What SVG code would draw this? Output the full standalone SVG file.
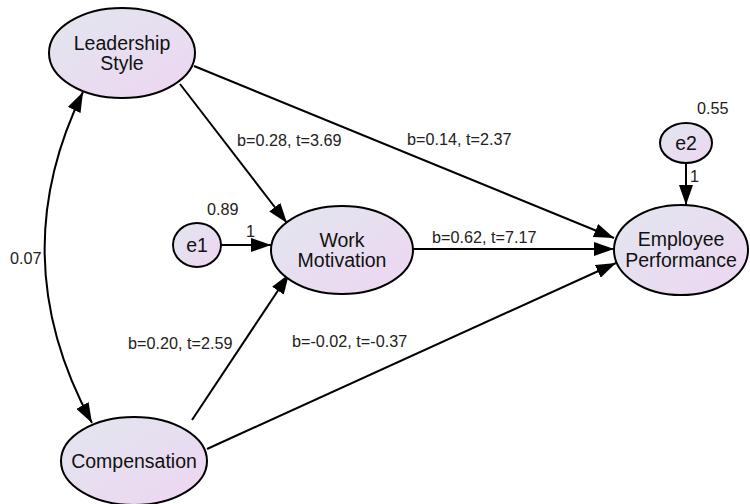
<svg xmlns="http://www.w3.org/2000/svg" width="750" height="504" viewBox="0 0 750 504">
<defs>
<linearGradient id="g" x1="0" y1="0" x2="1" y2="1">
<stop offset="0" stop-color="#e2e6ee"/>
<stop offset="1" stop-color="#edd6f2"/>
</linearGradient>
<marker id="ah" markerUnits="userSpaceOnUse" markerWidth="20" markerHeight="14" refX="20" refY="7" orient="auto-start-reverse">
<path d="M0,0 L20,7 L0,14 z" fill="#000"/>
</marker>
<style>
.n{fill:url(#g);stroke:#000;stroke-width:2}
.t{font-family:"Liberation Sans",Arial,sans-serif;font-size:19.5px;fill:#111;text-anchor:middle}
.l{font-family:"Liberation Sans",Arial,sans-serif;font-size:16.2px;fill:#222}
.c{fill:none;stroke:#000;stroke-width:2}
</style>
</defs>
<rect width="750" height="504" fill="#fff"/>
<g id="connectors">
<line class="c" x1="180" y1="84" x2="287" y2="223" marker-end="url(#ah)"/>
<line class="c" x1="194" y1="66" x2="614" y2="238" marker-end="url(#ah)"/>
<line class="c" x1="413" y1="249" x2="614" y2="249" marker-end="url(#ah)"/>
<line class="c" x1="192" y1="420" x2="289" y2="274" marker-end="url(#ah)"/>
<line class="c" x1="207" y1="449" x2="616" y2="263" marker-end="url(#ah)"/>
<line class="c" x1="221" y1="245" x2="271" y2="245" marker-end="url(#ah)"/>
<line class="c" x1="686" y1="163" x2="686" y2="205" marker-end="url(#ah)"/>
<path class="c" d="M83,92 Q2,258 92,423" marker-start="url(#ah)" marker-end="url(#ah)"/>
<text class="l" x="237" y="146">b=0.28, t=3.69</text>
<text class="l" x="407" y="145">b=0.14, t=2.37</text>
<text class="l" x="432" y="243">b=0.62, t=7.17</text>
<text class="l" x="128" y="349">b=0.20, t=2.59</text>
<text class="l" x="292" y="347">b=-0.02, t=-0.37</text>
<text class="l" x="10" y="264">0.07</text>
<text class="l" x="207" y="215">0.89</text>
<text class="l" x="246" y="237">1</text>
<text class="l" x="697" y="114">0.55</text>
<text class="l" x="690" y="182">1</text>
</g>
<g id="leadership">
<ellipse class="n" cx="122" cy="53" rx="73" ry="45"/>
<text class="t" x="122" y="50">Leadership</text>
<text class="t" x="122" y="70">Style</text>
</g>
<g id="compensation">
<ellipse class="n" cx="134" cy="461" rx="73" ry="44"/>
<text class="t" x="134" y="468">Compensation</text>
</g>
<g id="motivation">
<ellipse class="n" cx="342" cy="250" rx="71" ry="44"/>
<text class="t" x="342" y="247">Work</text>
<text class="t" x="342" y="267">Motivation</text>
</g>
<g id="performance">
<ellipse class="n" cx="681" cy="250" rx="67" ry="45"/>
<text class="t" x="681" y="246">Employee</text>
<text class="t" x="681" y="267">Performance</text>
</g>
<g id="e1">
<ellipse class="n" cx="197" cy="245" rx="24" ry="22"/>
<text class="t" x="197" y="252">e1</text>
</g>
<g id="e2">
<ellipse class="n" cx="686" cy="143" rx="26" ry="20"/>
<text class="t" x="686" y="150">e2</text>
</g>
</svg>
